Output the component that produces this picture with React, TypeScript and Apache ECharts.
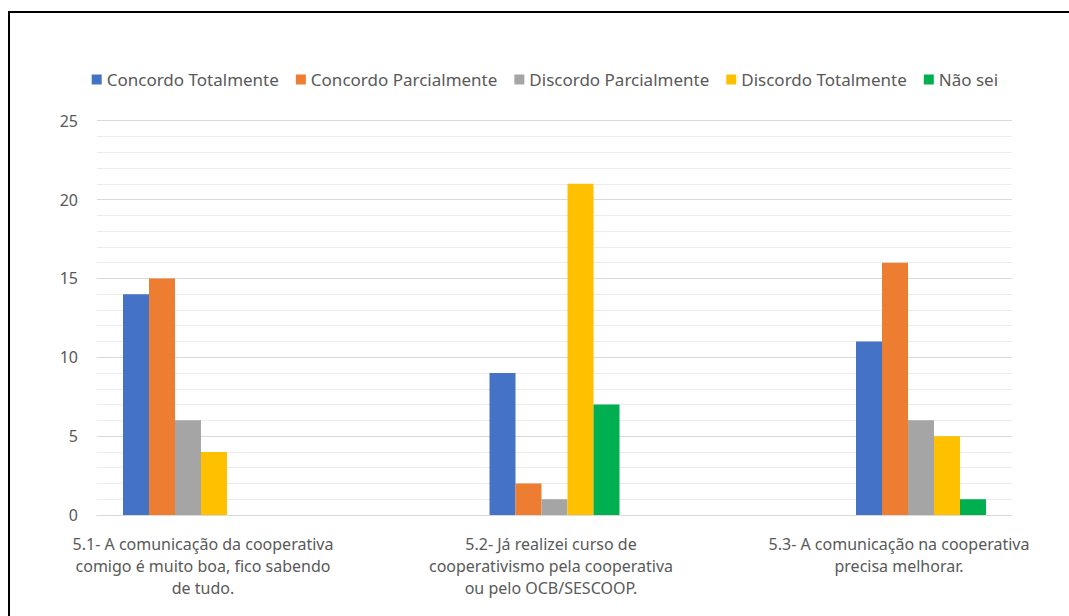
import React, { useEffect, useRef } from "react";
import * as echarts from "echarts";

const categories = [
  "5.1- A comunicação da cooperativa\ncomigo é muito boa, fico sabendo\nde tudo.",
  "5.2- Já realizei curso de\ncooperativismo pela cooperativa\nou pelo OCB/SESCOOP.",
  "5.3- A comunicação na cooperativa\nprecisa melhorar.",
];
const seriesNames = [
  "Concordo Totalmente",
  "Concordo Parcialmente",
  "Discordo Parcialmente",
  "Discordo Totalmente",
  "Não sei",
];
const concordoTotalmente = [14, 9, 11];
const concordoParcialmente = [15, 2, 16];
const discordoParcialmente = [6, 1, 6];
const discordoTotalmente = [4, 21, 5];
const naoSei = [0, 7, 1];
const seriesColors = ["#4472C4", "#ED7D31", "#A5A5A5", "#FFC000", "#00B050"];
const yMin = 0;
const yMax = 25;
const yInterval = 5;

const FONT = "'Noto Sans', sans-serif";
const TEXT = "#595959";

export default function App() {
  const ref = useRef<HTMLDivElement>(null);
  useEffect(() => {
    if (!ref.current) return;
    const chart = echarts.init(ref.current, undefined, { renderer: "svg" });
    const values = [
      concordoTotalmente,
      concordoParcialmente,
      discordoParcialmente,
      discordoTotalmente,
      naoSei,
    ];
    const top = 120.7;
    const height = 394.3;
    chart.setOption({
      animation: false,
      backgroundColor: "#ffffff",
      textStyle: { fontFamily: FONT },
      legend: {
        data: seriesNames,
        left: 91.7,
        top: 71,
        padding: 0,
        icon: "rect",
        itemWidth: 10,
        itemHeight: 10,
        itemGap: 17,
        textStyle: { color: TEXT, fontSize: 17, fontFamily: FONT },
      },
      grid: [
        { left: 97, width: 915, top, height },
        { left: 188, width: 733, top, height },
        { left: 203, width: 696, top, height },
      ],
      xAxis: [
        {
          type: "category",
          gridIndex: 0,
          data: categories,
          axisLine: { show: true, lineStyle: { color: "#d9d9d9", width: 1 } },
          axisTick: { show: false },
          axisLabel: { show: false },
        },
        {
          type: "category",
          gridIndex: 1,
          data: categories,
          boundaryGap: false,
          show: false,
        },
        {
          type: "category",
          gridIndex: 2,
          data: categories,
          boundaryGap: false,
          axisLine: { show: false },
          axisTick: { show: false },
          axisLabel: {
            interval: 0,
            margin: 18,
            fontSize: 16,
            lineHeight: 22,
            color: TEXT,
            fontFamily: FONT,
            align: "center",
          },
        },
      ],
      yAxis: [
        {
          type: "value",
          gridIndex: 0,
          min: yMin,
          max: yMax,
          interval: yInterval,
          axisLine: { show: false },
          axisTick: { show: false },
          axisLabel: { fontSize: 16, color: TEXT, margin: 19, fontFamily: FONT },
          splitLine: { show: true, lineStyle: { color: "#d9d9d9", width: 1 } },
          minorTick: { show: false, splitNumber: 5 },
          minorSplitLine: { show: true, lineStyle: { color: "#ececec", width: 1 } },
        },
        { type: "value", gridIndex: 1, min: yMin, max: yMax, interval: yInterval, show: false, splitLine: { show: false } },
        { type: "value", gridIndex: 2, min: yMin, max: yMax, interval: yInterval, show: false, splitLine: { show: false } },
      ],
      series: seriesNames.map((name, i) => ({
        name,
        type: "bar",
        xAxisIndex: 1,
        yAxisIndex: 1,
        data: values[i],
        barWidth: 26,
        barGap: "0%",
        itemStyle: { color: seriesColors[i] },
      })),
      graphic: [
        {
          type: "polyline",
          shape: { points: [[9, 616], [9, 12], [1069, 12]] },
          style: { stroke: "#000000", lineWidth: 2, fill: null },
          silent: true,
        },
      ],
    });
    return () => chart.dispose();
  }, []);
  return (
    <div
      ref={ref}
      style={{ position: "fixed", left: 0, top: 0, width: 1069, height: 616 }}
    />
  );
}
